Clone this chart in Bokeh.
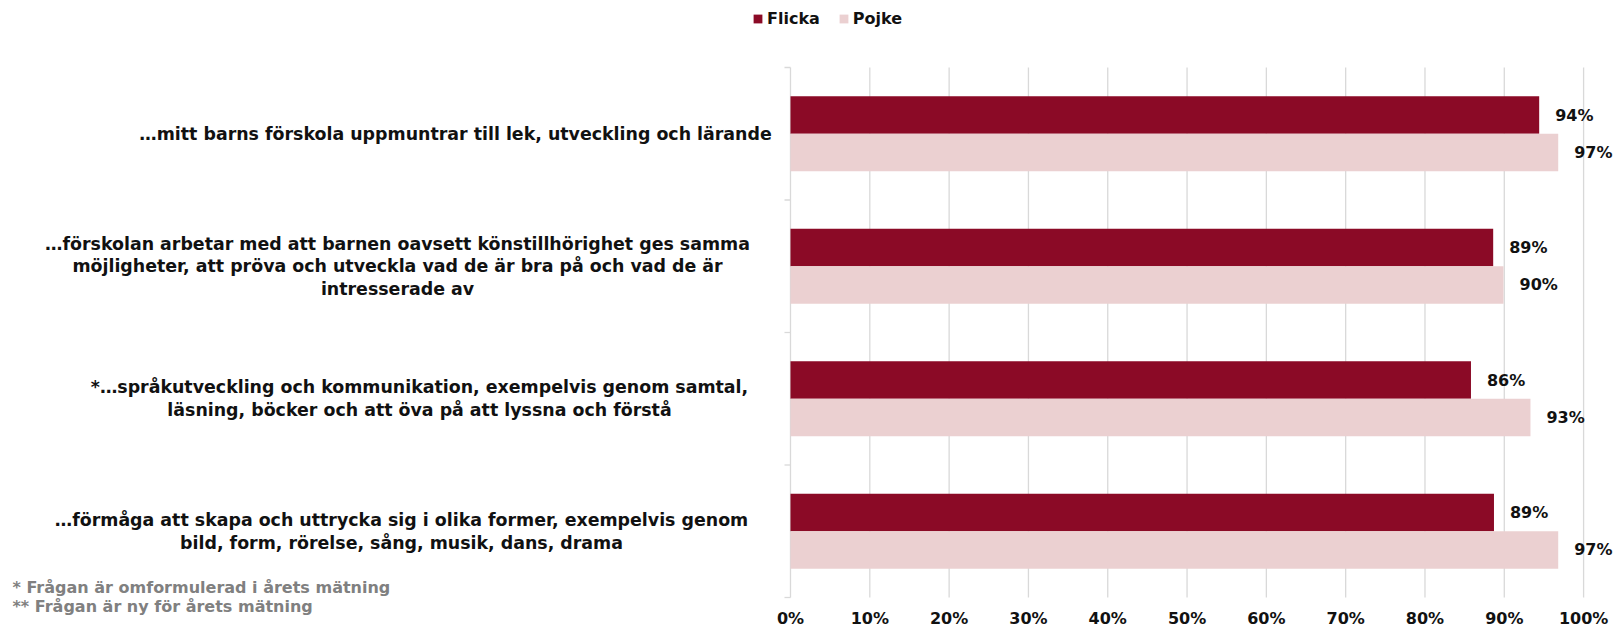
from bokeh.plotting import figure
from bokeh.models import Range1d, Legend, LegendItem, ColumnDataSource
from bokeh.core.properties import value
from bokeh.embed import file_html
from bokeh.resources import INLINE

# ---- data ----
categories = [
    "…mitt barns förskola uppmuntrar till lek, utveckling och lärande",
    "…förskolan arbetar med att barnen oavsett könstillhörighet ges samma\nmöjligheter, att pröva och utveckla vad de är bra på och vad de är\nintresserade av",
    "*…språkutveckling och kommunikation, exempelvis genom samtal,\nläsning, böcker och att öva på att lyssna och förstå",
    "…förmåga att skapa och uttrycka sig i olika former, exempelvis genom\nbild, form, rörelse, sång, musik, dans, drama",
]
series_names = ["Flicka", "Pojke"]
flicka = [94.4, 88.6, 85.8, 88.7]
pojke = [96.8, 89.9, 93.3, 96.8]
x_ticks = [0, 10, 20, 30, 40, 50, 60, 70, 80, 90, 100]
x_tick_labels = [f"{t}%" for t in x_ticks]
footnotes = ["* Frågan är omformulerad i årets mätning", "** Frågan är ny för årets mätning"]

# ---- layout / style ----
W, H = 1614, 630
PX0 = 790.0           # screen x of 0%
PPU = 7.931           # pixels per percent
BAND = 132.5          # pixels per category band
TOP = 67.0            # screen y of first band top
label_center_px = [455, 397, 419, 401]
tick_label_px = 618
footnote_px = [587, 606]
FONT = "DejaVu Sans"
C_F = "#8B0A26"
C_P = "#EBD0D1"
GRID = "#d9d9d9"
TXT = "#111111"
bar_h = 0.283

n = len(categories)
pos = [i + 0.5 for i in range(n)]


def ydata(px):
    return (px - TOP) / BAND


p = figure(width=W, height=H, output_backend="svg", toolbar_location=None,
           x_range=Range1d(-PX0 / PPU, (W - PX0) / PPU),
           y_range=Range1d(ydata(H), ydata(0)),
           min_border_left=0, min_border_right=0, min_border_top=0, min_border_bottom=0)
p.outline_line_color = None
p.background_fill_color = "white"
p.border_fill_color = "white"
p.axis.visible = False
p.grid.visible = False

# vertical grid lines over the category bands
p.segment(x0=x_ticks, x1=x_ticks, y0=[0] * len(x_ticks), y1=[n] * len(x_ticks),
          line_color=GRID, line_width=1.3)
# band tick marks on category axis
bounds = list(range(n + 1))
tick_len = 6 / PPU
p.segment(x0=[-tick_len] * len(bounds), x1=[0] * len(bounds), y0=bounds, y1=bounds,
          line_color=GRID, line_width=1.3)
# x tick labels, placed through the x scale
p.text(x=x_ticks, y=[ydata(tick_label_px)] * len(x_ticks), text=x_tick_labels,
       text_align="center", text_baseline="middle", text_font=value(FONT),
       text_font_size="16px", text_font_style="bold", text_color=TXT)

src = ColumnDataSource(dict(
    y_f=[y - bar_h / 2 for y in pos], y_p=[y + bar_h / 2 for y in pos],
    f=flicka, p=pojke,
    f_lab=[f"{round(v)}%" for v in flicka], p_lab=[f"{round(v)}%" for v in pojke],
    cat=categories, cx=[(c - PX0) / PPU for c in label_center_px], cy=pos,
))

r_f = p.hbar(y="y_f", right="f", left=0, height=bar_h, source=src, fill_color=C_F, line_color=None)
r_p = p.hbar(y="y_p", right="p", left=0, height=bar_h, source=src, fill_color=C_P, line_color=None)

for xcol, ycol, lab in (("f", "y_f", "f_lab"), ("p", "y_p", "p_lab")):
    p.text(x=xcol, y=ycol, text=lab, source=src, x_offset=16, text_align="left",
           text_baseline="middle", text_font=value(FONT), text_font_size="16px",
           text_font_style="bold", text_color=TXT)

p.text(x="cx", y="cy", text="cat", source=src, text_align="center", text_baseline="middle",
       text_font=value(FONT), text_font_size="17.4px", text_font_style="bold",
       text_color=TXT, text_line_height=1.13)

# footnotes
p.text(x=[12 / PPU - PX0 / PPU] * len(footnotes), y=[ydata(v) for v in footnote_px],
       text=footnotes, text_align="left", text_baseline="middle", text_font=value(FONT),
       text_font_size="16px", text_font_style="bold", text_color="#808080")

legend = Legend(items=[LegendItem(label=series_names[0], renderers=[r_f]),
                       LegendItem(label=series_names[1], renderers=[r_p])],
                orientation="horizontal", location=(752, H - 28),
                glyph_width=11, glyph_height=11, label_standoff=4, spacing=18,
                padding=0, margin=0, border_line_color=None, background_fill_alpha=0,
                label_text_font=FONT, label_text_font_size="16px",
                label_text_font_style="bold", label_text_color=TXT,
                label_height=12)
p.add_layout(legend, "center")

open("out.html", "w").write(file_html(p, INLINE))
